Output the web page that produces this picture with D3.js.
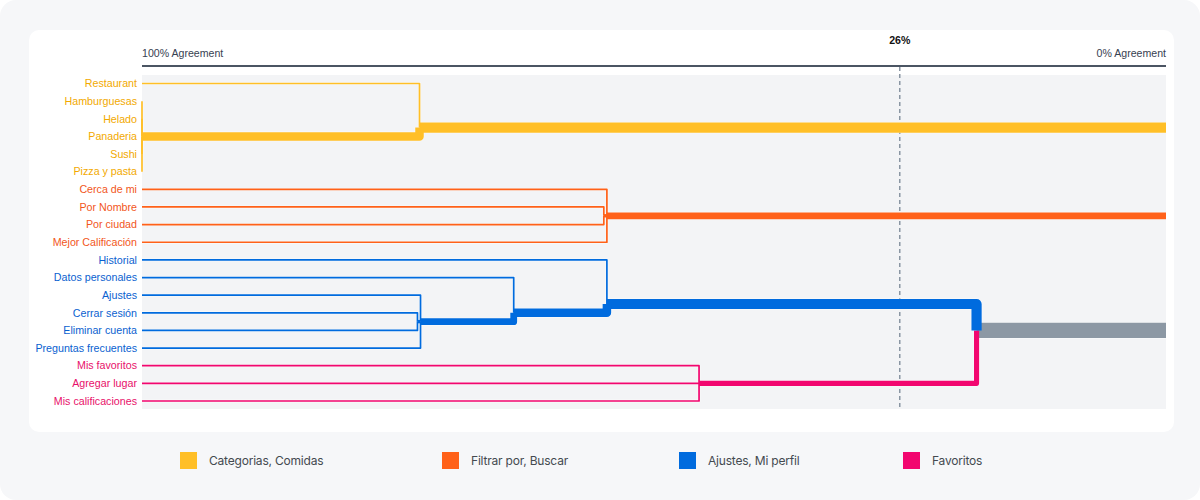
<!DOCTYPE html>
<html>
<head>
<meta charset="utf-8">
<script src="https://cdn.jsdelivr.net/npm/d3@7"></script>
<style>
  html, body { margin: 0; padding: 0; background: #ffffff; }
  svg { display: block; }
</style>
</head>
<body>
<svg id="chart" width="1200" height="500"></svg>
<script>
// ---- DATA ----
const leafNames = ["Restaurant","Hamburguesas","Helado","Panaderia","Sushi","Pizza y pasta",
  "Cerca de mi","Por Nombre","Por ciudad","Mejor Calificación",
  "Historial","Datos personales","Ajustes","Cerrar sesión","Eliminar cuenta","Preguntas frecuentes",
  "Mis favoritos","Agregar lugar","Mis calificaciones"];
const leafGroup = [0,0,0,0,0,0, 1,1,1,1, 2,2,2,2,2,2, 3,3,3];
const groupNames = ["Categorias, Comidas","Filtrar por, Buscar","Ajustes, Mi perfil","Favoritos"];
// merges: node ids continue after the 19 leaves (19, 20, ...)
const mergeChildren = [
  [1,2,3,4,5],   // 19
  [0,19],        // 20
  [7,8],         // 21
  [6,21,9],      // 22
  [13,14],       // 23
  [12,23,15],    // 24
  [11,24],       // 25
  [10,25],       // 26
  [16,17,18],    // 27
  [26,27]        // 28
];
const mergeAgreement = [1.00, 0.729, 0.549, 0.546, 0.731, 0.728, 0.637, 0.546, 0.456, 0.185];
const thresholdValue = 0.26;
const axisLabels = ["100% Agreement", "0% Agreement"];

// ---- STYLE ----
const lineColors = ["#ffbf27","#ff6119","#006bde","#f2066f"];
const textColors = ["#f2a900","#f2561b","#0a5fd0","#e8106a"];
const mixedColor = "#8c98a4";
const labelFont = "Liberation Sans, Arial, sans-serif";

const svg = d3.select("#chart");
svg.append("rect").attr("x",0).attr("y",0).attr("width",1200).attr("height",500).attr("rx",16).attr("fill","#f6f7f9");
svg.append("rect").attr("x",29).attr("y",30).attr("width",1145).attr("height",402).attr("rx",10).attr("fill","#ffffff");

const x = d3.scaleLinear().domain([1,0]).range([142,1166]);
const y = d3.scaleLinear().domain([0, leafNames.length-1]).range([83.5, 401]);

// plot background
svg.append("rect").attr("x",x(1)).attr("y",75).attr("width",x(0)-x(1)).attr("height",334).attr("fill","#f3f4f6");

// axis
svg.append("line").attr("x1",x(1)).attr("x2",x(0)).attr("y1",66).attr("y2",66)
  .attr("stroke","#4b5563").attr("stroke-width",2);
svg.append("text").attr("x",x(1)).attr("y",57).text(axisLabels[0])
  .attr("font-family",labelFont).attr("font-size",10.6).attr("fill","#374151");
svg.append("text").attr("x",x(0)).attr("y",57).attr("text-anchor","end").text(axisLabels[1])
  .attr("font-family",labelFont).attr("font-size",10.6).attr("fill","#374151");

// build nodes
const nodes = leafNames.map((n,i)=>({id:i, name:n, a:1, pos:i, size:1, group:leafGroup[i], parent:null}));
mergeChildren.forEach((ch,k)=>{
  const kids = ch.map(c=>nodes[c]);
  const size = d3.sum(kids,d=>d.size);
  const pos = d3.sum(kids,d=>d.pos*d.size)/size;
  const groups = new Set(kids.map(d=>d.group));
  const node = {id:leafNames.length+k, a:mergeAgreement[k], pos, size, group: groups.size===1 ? kids[0].group : -1, parent:null};
  kids.forEach(d=>d.parent=node);
  nodes.push(node);
});

const colorOf = d => d.group>=0 ? lineColors[d.group] : mixedColor;
const widthOf = d => 1.7*d.size;

// threshold dashed line
const thr = svg.append("g");
thr.append("line").attr("x1",x(thresholdValue)).attr("x2",x(thresholdValue)).attr("y1",67).attr("y2",408)
  .attr("stroke","#8a96a3").attr("stroke-width",1.5).attr("stroke-dasharray","4,3");
thr.append("text").attr("x",x(thresholdValue)).attr("y",44).attr("text-anchor","middle")
  .attr("font-family",labelFont).attr("font-size",10.6).attr("font-weight","bold")
  .attr("fill","#111").text(Math.round(thresholdValue*100)+"%");

// links: parents drawn first so children overlay
const drawOrder = nodes.slice().reverse();
const pathOf = d => d.parent
  ? `M${x(d.a)},${y(d.pos)}H${x(d.parent.a)}V${y(d.parent.pos)}`
  : `M${x(d.a)},${y(d.pos)}H${x(0)}`;
const linkG = svg.append("g").attr("fill","none").attr("stroke-linejoin","round");
linkG.append("g").selectAll("path").data(drawOrder).join("path")
  .attr("d",pathOf).attr("stroke","#ffffff").attr("stroke-opacity",0.5)
  .attr("stroke-width",d=>widthOf(d)+1.2);
linkG.append("g").selectAll("path").data(drawOrder).join("path")
  .attr("d",pathOf).attr("stroke",colorOf).attr("stroke-width",widthOf);

// leaf labels
svg.append("g").selectAll("text").data(nodes.slice(0,leafNames.length)).join("text")
  .attr("x",137).attr("y",d=>y(d.pos)).attr("dy","0.35em").attr("text-anchor","end")
  .attr("font-family",labelFont).attr("font-size",10.7)
  .attr("fill",d=>textColors[d.group]).text(d=>d.name);

// legend
const legendX = [180, 442, 679, 903];
const lg = svg.append("g").selectAll("g").data(groupNames).join("g")
  .attr("transform",(d,i)=>`translate(${legendX[i]},452)`);
lg.append("rect").attr("width",17).attr("height",17).attr("fill",(d,i)=>lineColors[i]);
lg.append("text").attr("x",29).attr("y",8.5).attr("dy","0.35em")
  .attr("font-family","Inter, Lato, sans-serif").attr("font-size",12).attr("letter-spacing",-0.2)
  .attr("fill","#444a50").text(d=>d);
</script>
</body>
</html>
